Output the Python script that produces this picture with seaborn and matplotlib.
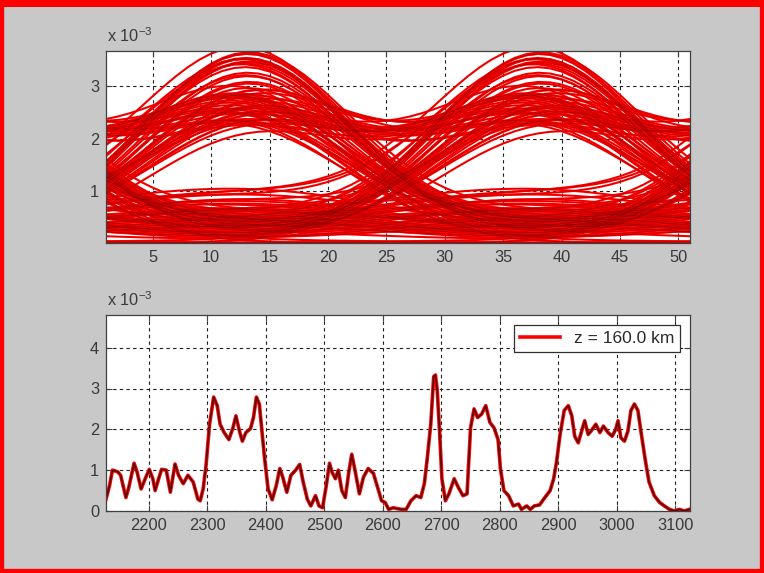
import numpy as np
import pandas as pd
import matplotlib
matplotlib.use("Agg")
import matplotlib.pyplot as plt
import seaborn as sns
from matplotlib.patches import Rectangle

# ---------------- data ----------------
# eye diagram: symbol peak amplitudes (units of 1e-3); >= 1.5 are "ones"
symbol_levels = [
    0.2, 3.5, 0.1, 0.45, 2.3, 2.1, 0.05, 0.3, 3.3, 0.15, 0.6, 0.0, 2.5, 2.4, 2.2, 0.4, 0.1, 3.55, 0.55, 0.2,
    2.0, 2.6, 0.0, 0.0, 0.0, 3.0, 0.35, 2.2, 1.9, 2.4, 0.15, 0.8, 0.1, 3.4, 0.4, 0.05, 2.7, 2.0, 0.2, 0.6,
    0.05, 2.8, 0.3, 2.35, 2.15, 2.5, 0.25, 0.9, 3.6, 0.1, 0.35, 0.0, 1.9, 2.3, 0.45, 0.1, 3.2, 0.3, 0.85, 0.2,
    2.45, 2.05, 2.6, 0.05, 0.55, 3.3, 0.35, 0.1, 2.2, 2.75, 0.05, 0.0, 0.0, 3.6, 0.15, 2.1, 2.4, 0.4, 0.95, 0.15,
    2.9, 0.3, 0.05, 2.3, 1.85, 2.55, 0.4, 3.45, 0.1, 0.6, 0.2, 2.65, 2.25, 0.0, 0.45, 3.1, 0.3, 0.75, 2.0, 2.5,
    0.5, 0.05, 3.4, 0.35, 2.35, 2.2, 0.25, 0.75, 0.1, 3.55, 0.4, 0.05, 2.4, 1.95, 2.6, 0.3, 0.9, 3.25, 0.2, 0.0,
    0.45, 0.15, 0.6, 2.2, 0.3, 0.05, 3.0, 0.5, 0.25, 0.7, 0.1, 2.6, 2.3, 0.0, 0.0, 0.05, 3.5, 0.2, 0.4, 0.65,
    0.1, 2.1, 2.45, 0.3, 0.5, 0.05, 3.15, 0.25, 0.6, 0.15, 2.7, 0.4, 0.0, 0.35, 2.25, 2.05, 0.5, 0.8, 3.35, 0.3,
]
samples_per_symbol = 25
one_threshold = 1.5
eye_xticks = [5, 10, 15, 20, 25, 30, 35, 40, 45, 50]
eye_yticks = [1, 2, 3]

# received power vs sample index (units of 1e-3)
sample_pos = [
    2127, 2133, 2138, 2147, 2152, 2161, 2166, 2175, 2180, 2187, 2194, 2201, 2207, 2211, 2217, 2222, 2230,
    2237, 2245, 2251, 2259, 2267, 2276, 2284, 2288, 2293, 2298, 2304, 2311, 2317, 2322, 2329, 2337, 2344,
    2349, 2355, 2360, 2366, 2374, 2379, 2384, 2389, 2393, 2398, 2404, 2411, 2418, 2424, 2429, 2436, 2443,
    2451, 2458, 2464, 2471, 2477, 2485, 2491, 2497, 2503, 2509, 2513, 2519, 2524, 2530, 2536, 2542, 2547,
    2553, 2560, 2567, 2575, 2584, 2592, 2598, 2604, 2610, 2618, 2624, 2632, 2640, 2648, 2657, 2665, 2671,
    2676, 2682, 2687, 2690, 2693, 2697, 2701, 2707, 2713, 2722, 2729, 2737, 2744, 2750, 2756, 2762, 2769,
    2776, 2783, 2790, 2797, 2801, 2807, 2815, 2823, 2832, 2837, 2846, 2852, 2859, 2868, 2877, 2886, 2892,
    2897, 2903, 2910, 2917, 2923, 2928, 2934, 2940, 2945, 2951, 2956, 2964, 2971, 2977, 2985, 2992, 2998,
    3002, 3007, 3013, 3019, 3024, 3030, 3036, 3041, 3049, 3055, 3064, 3073, 3081, 3090, 3098, 3107, 3115,
    3124,
]
sample_power = [
    0.29, 0.62, 1.0, 0.96, 0.875, 0.33, 0.58, 1.17, 0.96, 0.54, 0.79, 1.02, 0.79, 0.5, 0.79, 1.02, 1.0,
    0.46, 1.15, 0.875, 0.67, 0.875, 0.71, 0.29, 0.25, 0.54, 1.125, 2.125, 2.79, 2.58, 2.125, 1.92, 1.75, 2.04,
    2.33, 1.96, 1.71, 1.92, 2.02, 2.29, 2.79, 2.62, 2.04, 1.29, 0.54, 0.275, 0.625, 1.04, 0.83, 0.46, 0.875,
    1.0, 1.14, 0.71, 0.29, 0.125, 0.375, 0.125, 0.08, 0.58, 1.17, 0.96, 0.79, 1.0, 0.5, 0.33, 0.96, 1.39,
    0.96, 0.42, 0.83, 1.04, 0.92, 0.54, 0.25, 0.21, 0.04, 0.08, 0.06, 0.04, 0.04, 0.25, 0.375, 0.33, 0.67,
    1.29, 2.125, 3.29, 3.33, 2.96, 1.96, 0.79, 0.25, 0.42, 0.79, 0.58, 0.375, 0.42, 2.04, 2.5, 2.29, 2.375,
    2.58, 2.17, 2.04, 1.75, 1.04, 0.5, 0.375, 0.125, 0.17, 0.04, 0.125, 0.04, 0.125, 0.15, 0.33, 0.5, 0.79,
    1.21, 1.875, 2.46, 2.58, 2.33, 1.83, 1.67, 1.96, 2.21, 1.875, 1.96, 2.125, 1.92, 2.08, 1.92, 1.83, 2.0,
    2.21, 1.79, 1.71, 1.96, 2.46, 2.62, 2.46, 1.96, 1.21, 0.71, 0.375, 0.21, 0.125, 0.04, 0.0, 0.04, 0.0,
    0.04,
]
bottom_xticks = [2200, 2300, 2400, 2500, 2600, 2700, 2800, 2900, 3000, 3100]
bottom_yticks = [0, 1, 2, 3, 4]
legend_label = "z = 160.0 km"
scale_label = r"x 10$^{\mathregular{-3}}$"

# ---------------- build eye traces (folding of the symbol stream) ----------------
levels = np.asarray(symbol_levels)
n_sym = len(levels)
n_samp = n_sym * samples_per_symbol
s = np.arange(n_samp)
is_one = levels >= one_threshold
shapes = []
for j in range(n_sym):
    c = j * samples_per_symbol + 12
    d = (s - c + n_samp / 2) % n_samp - n_samp / 2
    sig = 9.0 if is_one[j] else 13.0
    shapes.append(np.exp(-d ** 2 / (2 * sig ** 2)))
shapes = np.array(shapes)
wave = (levels[:, None] * shapes).sum(axis=0)
for j in range(n_sym):
    k = (j + 1) % n_sym
    if is_one[j] and is_one[k]:
        wave += 0.25 * 2 * np.sqrt(levels[j] * levels[k] * shapes[j] * shapes[k])
rows = []
win = 2 * samples_per_symbol + 1
for k in range(n_sym):
    idx = (k * samples_per_symbol + np.arange(win)) % n_samp
    for t, v in zip(np.arange(1, win + 1), wave[idx]):
        rows.append((k, t, v))
eye_df = pd.DataFrame(rows, columns=["trace", "t", "v"])
sig_df = pd.DataFrame({"pos": sample_pos, "power": sample_power})

# ---------------- figure ----------------
plt.rcParams["font.family"] = ["Liberation Sans", "DejaVu Sans"]
W, H = 764, 573
fig = plt.figure(figsize=(W / 100, H / 100), dpi=100)
fig.patch.set_facecolor("#c8c8c8")

def px_axes(l, t, r, b):
    return fig.add_axes([l / W, 1 - b / H, (r - l) / W, (b - t) / H])

ax1 = px_axes(106, 51, 690, 243)
ax2 = px_axes(106, 315, 690, 511)
FS = 11.8

def style(ax):
    ax.set_facecolor("white")
    for sp in ax.spines.values():
        sp.set_color("#404040")
        sp.set_linewidth(0.9)
    ax.tick_params(direction="in", length=4, width=0.8, color="#404040",
                   labelsize=FS, labelcolor="#3a3a3a", top=True, right=True)
    ax.tick_params(axis="x", pad=5)
    ax.tick_params(axis="y", pad=5)
    ax.grid(True, color="#202020", linestyle=(0, (3, 3)), linewidth=0.8)
    ax.set_axisbelow(True)
    ax.set_xlabel("")
    ax.set_ylabel("")
    ax.annotate(scale_label, xy=(0, 1), xycoords="axes fraction",
                xytext=(0.5, 6.5), textcoords="offset points",
                ha="left", va="baseline", fontsize=FS, color="#3a3a3a")

# eye diagram
sns.lineplot(data=eye_df, x="t", y="v", units="trace", estimator=None,
             color="#ff0000", linewidth=1.5, ax=ax1, legend=False)
sns.lineplot(data=eye_df, x="t", y="v", units="trace", estimator=None,
             color="#700000", linewidth=0.3, alpha=0.45, ax=ax1, legend=False)
ax1.set_xlim(1, 51)
ax1.set_ylim(0, 3.68)
ax1.set_xticks(eye_xticks)
ax1.set_yticks(eye_yticks)
style(ax1)

# signal trace
sns.lineplot(data=sig_df, x="pos", y="power", color="#ff0000", linewidth=2.6,
             ax=ax2, label=legend_label, sort=False)
sns.lineplot(data=sig_df, x="pos", y="power", color="#4a0808", linewidth=1.1,
             ax=ax2, sort=False, legend=False)
ax2.set_xlim(2127, 3125)
ax2.set_ylim(0, 4.8)
ax2.set_xticks(bottom_xticks)
ax2.set_yticks(bottom_yticks)
style(ax2)
leg = ax2.legend(loc="upper right", fontsize=12.5, frameon=True, fancybox=False,
                 framealpha=1, edgecolor="#303030", borderaxespad=0.55,
                 handlelength=2.3, handletextpad=0.8, borderpad=0.35)
leg.get_frame().set_linewidth(0.9)
for txt in leg.get_texts():
    txt.set_color("#2a2a2a")

fig.add_artist(Rectangle((0, 0), 1, 1, transform=fig.transFigure, fill=False,
                         edgecolor="#ff0000", linewidth=6, clip_on=False))
fig.add_artist(Rectangle((0, 1 - 7 / H), 1, 7 / H, transform=fig.transFigure,
                         facecolor="#ff0000", edgecolor="none", clip_on=False))

fig.savefig("out.png", dpi=100, facecolor=fig.get_facecolor())
